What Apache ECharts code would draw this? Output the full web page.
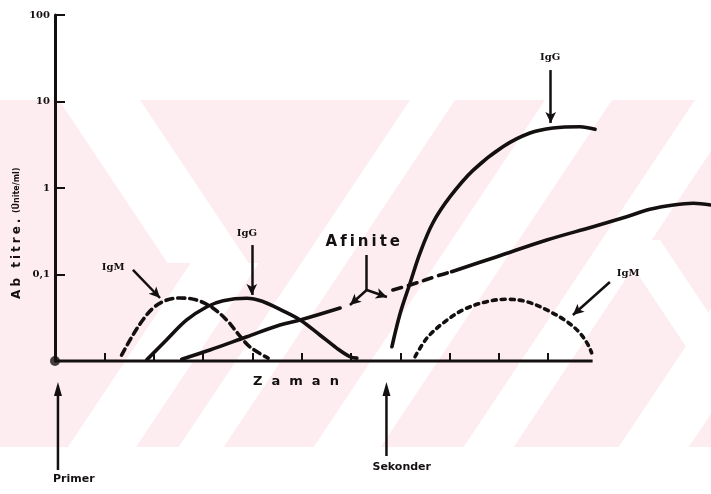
<!DOCTYPE html>
<html>
<head>
<meta charset="utf-8">
<script src="https://cdn.jsdelivr.net/npm/echarts@6/dist/echarts.min.js"></script>
<style>
  html, body { margin: 0; padding: 0; background: #ffffff; }
  #chart { width: 711px; height: 494px; }
</style>
</head>
<body>
<div id="chart"></div>
<script>
// Antibody response over time: titre (log scale) for primary and secondary exposure.

// y-axis decade labels, keyed by log10 of the value
const yTickLabels = { '-1': '0,1', '0': '1', '1': '10', '2': '100' };
// time ticks along the drawn part of the time axis
const timeTicks = [1, 2, 3, 4, 5, 6, 7, 8, 9, 10];
const timeAxisEnd = 10.9;

// [time, titre]
const primaryIgM = [[1.35, 0.0117], [1.56, 0.0191], [1.78, 0.0298], [1.99, 0.041], [2.23, 0.0498], [2.53, 0.0535],
  [2.87, 0.0507], [3.2, 0.041], [3.5, 0.029], [3.7, 0.021], [3.95, 0.0146], [4.32, 0.0108]];
const primaryIgG = [[1.86, 0.0103], [2.26, 0.0175], [2.67, 0.0298], [3.08, 0.0424], [3.41, 0.0498], [3.89, 0.0531],
  [4.2, 0.049], [4.6, 0.0385], [4.97, 0.0298], [5.37, 0.02], [5.71, 0.0141], [5.98, 0.0112], [6.12, 0.0108]];
const afinitePrimary = [[2.57, 0.0105], [3.14, 0.0134], [3.89, 0.0191], [4.56, 0.0261], [4.97, 0.0298], [5.78, 0.041]];
const afiniteBridge = [[6.85, 0.0662], [7.2, 0.0756], [7.81, 0.0987], [8.04, 0.1077]];
const afiniteSecondary = [[8.04, 0.1077], [8.96, 0.1607], [9.97, 0.2505], [10.91, 0.357], [11.59, 0.466],
  [12.06, 0.567], [12.54, 0.636], [12.94, 0.666], [13.3, 0.636]];
const secondaryIgG = [[6.83, 0.0146], [7.0, 0.0359], [7.2, 0.0798], [7.4, 0.177], [7.66, 0.394], [8.01, 0.793],
  [8.48, 1.61], [9.08, 3.0], [9.63, 4.32], [10.1, 4.94], [10.64, 5.11], [10.95, 4.77]];
const secondaryIgM = [[7.3, 0.0112], [7.54, 0.0184], [7.87, 0.0275], [8.27, 0.0389], [8.75, 0.0485], [9.16, 0.0517],
  [9.56, 0.0485], [9.97, 0.0389], [10.38, 0.0285], [10.64, 0.0211], [10.81, 0.0153], [10.88, 0.0124]];

// curve captions and the pointers leading from them to the curves
const curveLabels = [
  { name: 'IgM', value: [1.18, 0.122] },
  { name: 'IgG', value: [3.89, 0.302] },
  { name: 'Afinite', value: [6.24, 0.2375] },
  { name: 'IgG', value: [10.04, 32.7] },
  { name: 'IgM', value: [11.62, 0.104] }
];
const pointerArrows = [
  [[1.58, 0.1128], [2.13, 0.0535]],
  [[3.99, 0.219], [3.99, 0.058]],
  [[10.05, 23.1], [10.05, 5.64]],
  [[11.25, 0.0819], [10.5, 0.034]]
];
const forkStem = [[6.32, 0.168], [6.32, 0.0662]];
const forkBranches = [[[6.32, 0.0662], [5.98, 0.0444]], [[6.32, 0.0662], [6.73, 0.055]]];

// exposure events marked under the time axis
const exposureEvents = [{ name: 'Primer', time: 0.06 }, { name: 'Sekonder', time: 6.72 }];

const INK = '#141010';
const chart = echarts.init(document.getElementById('chart'), null, { renderer: 'canvas' });

function curve(data, type, width) {
  return {
    type: 'line', data: data, smooth: 0.35, symbol: 'none', clip: false, silent: true,
    lineStyle: { color: INK, width: width || 3.6, type: type || 'solid', cap: 'round', join: 'round' },
    z: 5
  };
}

// letter-spaced caption: every character becomes its own rich-text run with side padding
function spaced(text, style, gap) {
  const rich = { c: Object.assign({ padding: [0, gap, 0, gap] }, style) };
  const str = text.split('').map(function (ch) { return ch === ' ' ? '{c| }' : '{c|' + ch + '}'; }).join('');
  return { str: str, rich: rich };
}

const arrowLines = pointerArrows.map(function (p) {
  return [{ coord: p[0], symbol: 'none' }, { coord: p[1], symbol: 'arrow' }];
});
arrowLines.push([{ coord: forkStem[0], symbol: 'none' }, { coord: forkStem[1], symbol: 'none' }]);
forkBranches.forEach(function (p) {
  arrowLines.push([{ coord: p[0], symbol: 'none' }, { coord: p[1], symbol: 'arrow' }]);
});

// backdrop: light pink band crossed by white diagonal bands
const PINK = '#fdedf0';
const BAND_TOP = 100, BAND_BOTTOM = 447, SLOPE = 1.5;
const bg = [
  { type: 'rect', shape: { x: 0, y: BAND_TOP, width: 711, height: BAND_BOTTOM - BAND_TOP },
    style: { fill: PINK }, z: -20, silent: true }
];
// a band given by its left/right edge at yRef, running "\" (dir 1) or "/" (dir -1)
function band(x0, x1, dir, yRef, yStart, yEnd) {
  const a = yStart - yRef, b = yEnd - yRef;
  const s = dir / SLOPE;
  bg.push({ type: 'polygon', z: -19, silent: true, style: { fill: '#ffffff' },
    shape: { points: [[x0 + a * s, yStart], [x1 + a * s, yStart], [x1 + b * s, yEnd], [x0 + b * s, yEnd]] } });
}
band(59, 140, 1, BAND_TOP, BAND_TOP, 263);
band(68, 136, -1, BAND_BOTTOM, 263, BAND_BOTTOM);
band(410, 455, -1, BAND_TOP, BAND_TOP, BAND_BOTTOM);
band(545, 612, -1, BAND_TOP, BAND_TOP, BAND_BOTTOM);
band(695, 745, -1, BAND_TOP, BAND_TOP, BAND_BOTTOM);
band(850, 920, -1, BAND_TOP, BAND_TOP, BAND_BOTTOM);
band(655, 700, 1, 300, 240, BAND_BOTTOM);

const option = {
  backgroundColor: '#ffffff',
  animation: false,
  grid: { left: 55, right: 0, top: 15, bottom: 133, containLabel: false },
  xAxis: {
    type: 'value', min: 0, max: 13.3,
    axisLine: { show: false },
    axisTick: { show: true, inside: true, length: 8, customValues: timeTicks,
      lineStyle: { color: INK, width: 2 } },
    axisLabel: { show: false },
    splitLine: { show: false }
  },
  yAxis: {
    type: 'log', logBase: 10, min: 0.01, max: 100,
    axisLine: { show: true, lineStyle: { color: INK, width: 3 } },
    axisTick: { show: true, inside: true, length: 10, lineStyle: { color: INK, width: 2 } },
    axisLabel: {
      margin: 5, color: INK, fontFamily: 'DejaVu Serif', fontWeight: 'bold', fontSize: 10,
      formatter: function (v) {
        const k = String(Math.round(Math.log10(v)));
        return yTickLabels[k] || '';
      }
    },
    splitLine: { show: false }
  },
  graphic: bg,
  series: [
    {
      // time axis baseline, drawn only as far as the marked time span
      type: 'line', data: [[0, 0.01], [timeAxisEnd, 0.01]], symbol: 'none', clip: false, silent: true,
      lineStyle: { color: INK, width: 3 }, z: 4
    },
    curve(primaryIgM, [7, 5]),
    curve(primaryIgG),
    curve(afinitePrimary),
    curve(afiniteBridge, [9, 7]),
    curve(afiniteSecondary),
    curve(secondaryIgG),
    curve(secondaryIgM, [4, 5]),
    {
      type: 'scatter', data: [[0, 0.01]], symbolSize: 10, clip: false, silent: true,
      itemStyle: { color: INK }, z: 6
    },
    {
      type: 'line', data: [], silent: true,
      markLine: {
        silent: true, animation: false, symbolSize: [8, 11],
        lineStyle: { color: INK, width: 2.5, type: 'solid' },
        label: { show: false },
        emphasis: { disabled: true },
        data: arrowLines
      }
    }
  ]
};

chart.setOption(option);

const toPx = function (v) { return chart.convertToPixel({ xAxisIndex: 0, yAxisIndex: 0 }, v); };
const extra = [];

// curve captions
curveLabels.forEach(function (d) {
  const p = toPx(d.value);
  if (d.name === 'Afinite') {
    const t = spaced(d.name, { fontFamily: 'DejaVu Sans', fontWeight: 'bold', fontSize: 15, fill: INK }, 1.5);
    extra.push({ type: 'text', silent: true, z: 10, x: p[0], y: p[1],
      style: { text: t.str, rich: t.rich, align: 'center', verticalAlign: 'middle' } });
  } else {
    extra.push({ type: 'text', silent: true, z: 10, x: p[0], y: p[1],
      style: { text: d.name, align: 'center', verticalAlign: 'middle', fill: INK,
        fontFamily: 'DejaVu Serif', fontWeight: 'bold', fontSize: 10 } });
  }
});

// axis titles
const yTitle = spaced('Ab titre.', { fontFamily: 'DejaVu Sans', fontWeight: 'bold', fontSize: 12, fill: INK }, 1.5);
yTitle.rich.b = { fontFamily: 'DejaVu Sans', fontWeight: 'bold', fontSize: 8, fill: INK, padding: [0, 0, 0, 4] };
extra.push({
  type: 'text', x: 17, y: 234, rotation: Math.PI / 2, silent: true, z: 10,
  style: { text: yTitle.str + '{b|(Ünite/ml)}', rich: yTitle.rich, align: 'center', verticalAlign: 'middle' }
});
const xTitle = spaced('Zaman', { fontFamily: 'DejaVu Sans', fontWeight: 'bold', fontSize: 13, fill: INK }, 4.5);
extra.push({
  type: 'text', x: 296, y: 382, silent: true, z: 10,
  style: { text: xTitle.str, rich: xTitle.rich, align: 'center', verticalAlign: 'middle' }
});

// exposure arrows under the time axis, placed from their time values
exposureEvents.forEach(function (ev, i) {
  const px = toPx([ev.time, 0.01])[0];
  const yTop = 384, yBottom = i === 0 ? 470 : 456;
  extra.push({
    type: 'line', silent: true, z: 10,
    shape: { x1: px, y1: yBottom, x2: px, y2: yTop + 6 },
    style: { stroke: INK, lineWidth: 2.5 }
  });
  extra.push({
    type: 'polygon', silent: true, z: 10,
    shape: { points: [[px, yTop - 2], [px - 4, yTop + 12], [px + 4, yTop + 12]] },
    style: { fill: INK }
  });
  extra.push({
    type: 'text', silent: true, z: 10,
    x: i === 0 ? px - 5 : px - 14, y: i === 0 ? 479 : 467,
    style: { text: ev.name, align: 'left', verticalAlign: 'middle', fontFamily: 'DejaVu Sans',
      fontWeight: 'bold', fontSize: 11, fill: INK }
  });
});
chart.setOption({ graphic: bg.concat(extra) });
</script>
</body>
</html>
